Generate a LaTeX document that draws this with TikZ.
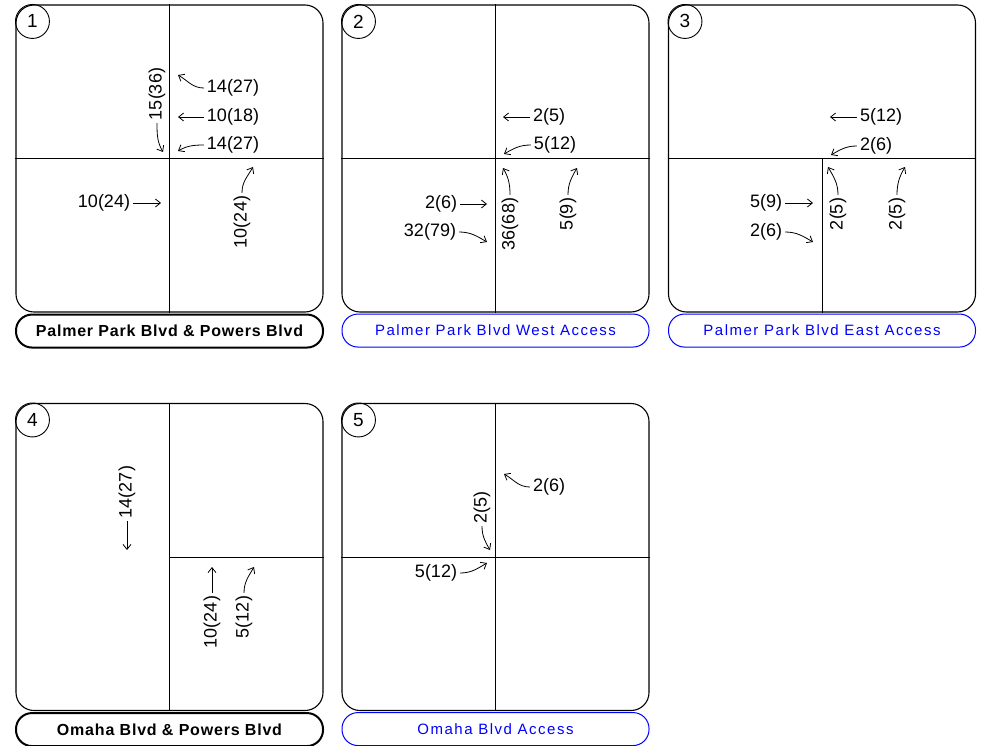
\documentclass[tikz,border=0pt]{standalone}
\usepackage{fontspec}
\setmainfont{Liberation Sans}
\newfontfamily\lblfont[LetterSpace=10]{Liberation Sans}
\newfontfamily\lblboldfont[LetterSpace=5]{Liberation Sans}
\usepackage{xcolor}
\usepackage{tikz}
\usetikzlibrary{arrows.meta, positioning, calc}
\definecolor{cadblue}{RGB}{0,0,255}

\begin{document}
\begin{tikzpicture}[
    x=1pt, y=1pt,
    panel/.style={draw, rounded corners=18pt, minimum width=307pt, minimum height=307pt, inner sep=0pt, line width=1.1pt},
    road/.style={line width=0.9pt},
    num/.style={draw, circle, minimum size=34pt, inner sep=0pt, line width=0.9pt, font=\fontsize{19}{19}\selectfont},
    vol/.style={inner sep=3pt, font=\fontsize{18}{18}\selectfont},
    vvol/.style={vol, rotate=90},
    line/.style={draw, line width=0.8pt, -{Straight Barb[length=5pt,width=8pt]}},
    namebox/.style={draw, rounded corners=16pt, minimum width=307pt, minimum height=33pt, inner sep=0pt},
    namebold/.style={namebox, line width=2pt, font=\lblboldfont\bfseries\fontsize{16}{16}\selectfont},
    nameblue/.style={namebox, draw=cadblue, text=cadblue, line width=1pt, font=\lblfont\fontsize{15}{15}\selectfont}
]
    \useasboundingbox (0,0) rectangle (984,-746);

    % Intersection panels
    \node [panel] (p1) at (169.5,-158.5) {};
    \node [panel] (p2) at (495.5,-158.5) {};
    \node [panel] (p3) at (822,-158.5) {};
    \node [panel] (p4) at (169.5,-557) {};
    \node [panel] (p5) at (495.5,-557) {};

    % Name tags
    \node [namebold, below=1pt of p1] (l1) {Palmer Park Blvd \& Powers Blvd};
    \node [nameblue, below=1pt of p2] (l2) {Palmer Park Blvd West Access};
    \node [nameblue, below=1pt of p3] (l3) {Palmer Park Blvd East Access};
    \node [namebold, below=1pt of p4] (l4) {Omaha Blvd \& Powers Blvd};
    \node [nameblue, below=1pt of p5] (l5) {Omaha Blvd Access};

    % Panel numbers
    \node [num] (c1) at ([shift={(17,-17)}]p1.north west) {1};
    \node [num] (c2) at ([shift={(17,-17)}]p2.north west) {2};
    \node [num] (c3) at ([shift={(17,-17)}]p3.north west) {3};
    \node [num] (c4) at ([shift={(17,-17)}]p4.north west) {4};
    \node [num] (c5) at ([shift={(17,-17)}]p5.north west) {5};

    % Roads
    \draw [road] (p1.north) -- (p1.south);
    \draw [road] (p1.west) -- (p1.east);
    \draw [road] (p2.north) -- (p2.south);
    \draw [road] (p2.west) -- (p2.east);
    \draw [road] (p3.center) -- (p3.south);
    \draw [road] (p3.west) -- (p3.east);
    \draw [road] (p4.north) -- (p4.south);
    \draw [road] (p4.center) -- (p4.east);
    \draw [road] (p5.north) -- (p5.south);
    \draw [road] (p5.west) -- (p5.east);

    % Panel 1 volumes
    \node [vol] (v1a) at (233,-88) {14(27)};
    \node [vol] (v1b) at (233,-117) {10(18)};
    \node [vol] (v1c) at (233,-145) {14(27)};
    \node [vvol] (v1d) at (157,-94) {15(36)};
    \node [vol] (v1e) at (104,-203) {10(24)};
    \node [vvol] (v1f) at (242,-222) {10(24)};
    \coordinate (h1a) at (178,-75);
    \coordinate (h1b) at (178,-117);
    \coordinate (h1c) at (178,-151);
    \coordinate (h1d) at (163,-152);
    \coordinate (h1e) at (161,-203);
    \coordinate (h1f) at (253,-167);
    \path [line] (v1a.west) to[out=180, in=-30] (h1a);
    \path [line] (v1b.west) -- (h1b);
    \path [line] (v1c.west) to[out=180, in=30] (h1c);
    \path [line] (v1d.west) to[out=-90, in=120] (h1d);
    \path [line] (v1e.east) -- (h1e);
    \path [line] (v1f.east) to[out=90, in=-120] (h1f);

    % Panel 2 volumes
    \node [vol] (v2a) at (549,-117) {2(5)};
    \node [vol] (v2b) at (555,-145) {5(12)};
    \node [vvol] (v2c) at (510,-224) {36(68)};
    \node [vvol] (v2d) at (568,-214) {5(9)};
    \node [vol] (v2e) at (441,-204) {2(6)};
    \node [vol] (v2f) at (430,-232) {32(79)};
    \coordinate (h2a) at (503,-117);
    \coordinate (h2b) at (504,-154);
    \coordinate (h2c) at (503,-168);
    \coordinate (h2d) at (577,-168);
    \coordinate (h2e) at (487,-204);
    \coordinate (h2f) at (487,-242);
    \path [line] (v2a.west) -- (h2a);
    \path [line] (v2b.west) to[out=180, in=30] (h2b);
    \path [line] (v2c.east) to[out=90, in=-60] (h2c);
    \path [line] (v2d.east) to[out=90, in=-120] (h2d);
    \path [line] (v2e.east) -- (h2e);
    \path [line] (v2f.east) to[out=0, in=150] (h2f);

    % Panel 3 volumes
    \node [vol] (v3a) at (881,-117) {5(12)};
    \node [vol] (v3b) at (876,-146) {2(6)};
    \node [vvol] (v3c) at (838,-214) {2(5)};
    \node [vvol] (v3d) at (897,-214) {2(5)};
    \node [vol] (v3e) at (766,-203) {5(9)};
    \node [vol] (v3f) at (766,-232) {2(6)};
    \coordinate (h3a) at (830,-117);
    \coordinate (h3b) at (831,-155);
    \coordinate (h3c) at (828,-167);
    \coordinate (h3d) at (905,-167);
    \coordinate (h3e) at (813,-203);
    \coordinate (h3f) at (813,-242);
    \path [line] (v3a.west) -- (h3a);
    \path [line] (v3b.west) to[out=180, in=30] (h3b);
    \path [line] (v3c.east) to[out=90, in=-60] (h3c);
    \path [line] (v3d.east) to[out=90, in=-120] (h3d);
    \path [line] (v3e.east) -- (h3e);
    \path [line] (v3f.east) to[out=0, in=150] (h3f);

    % Panel 4 volumes
    \node [vvol] (v4a) at (127,-492) {14(27)};
    \node [vvol] (v4b) at (212,-622) {10(24)};
    \node [vvol] (v4c) at (244,-617) {5(12)};
    \coordinate (h4a) at (127,-550);
    \coordinate (h4b) at (212,-567);
    \coordinate (h4c) at (254,-567);
    \path [line] (v4a.west) -- (h4a);
    \path [line] (v4b.east) -- (h4b);
    \path [line] (v4c.east) to[out=90, in=-120] (h4c);

    % Panel 5 volumes
    \node [vol] (v5a) at (549,-487) {2(6)};
    \node [vvol] (v5b) at (482,-507) {2(5)};
    \node [vol] (v5c) at (436,-573) {5(12)};
    \coordinate (h5a) at (504,-474);
    \coordinate (h5b) at (490,-550);
    \coordinate (h5c) at (487,-563);
    \path [line] (v5a.west) to[out=180, in=-30] (h5a);
    \path [line] (v5b.west) to[out=-90, in=120] (h5b);
    \path [line] (v5c.east) to[out=0, in=-150] (h5c);

\end{tikzpicture}
\end{document}
